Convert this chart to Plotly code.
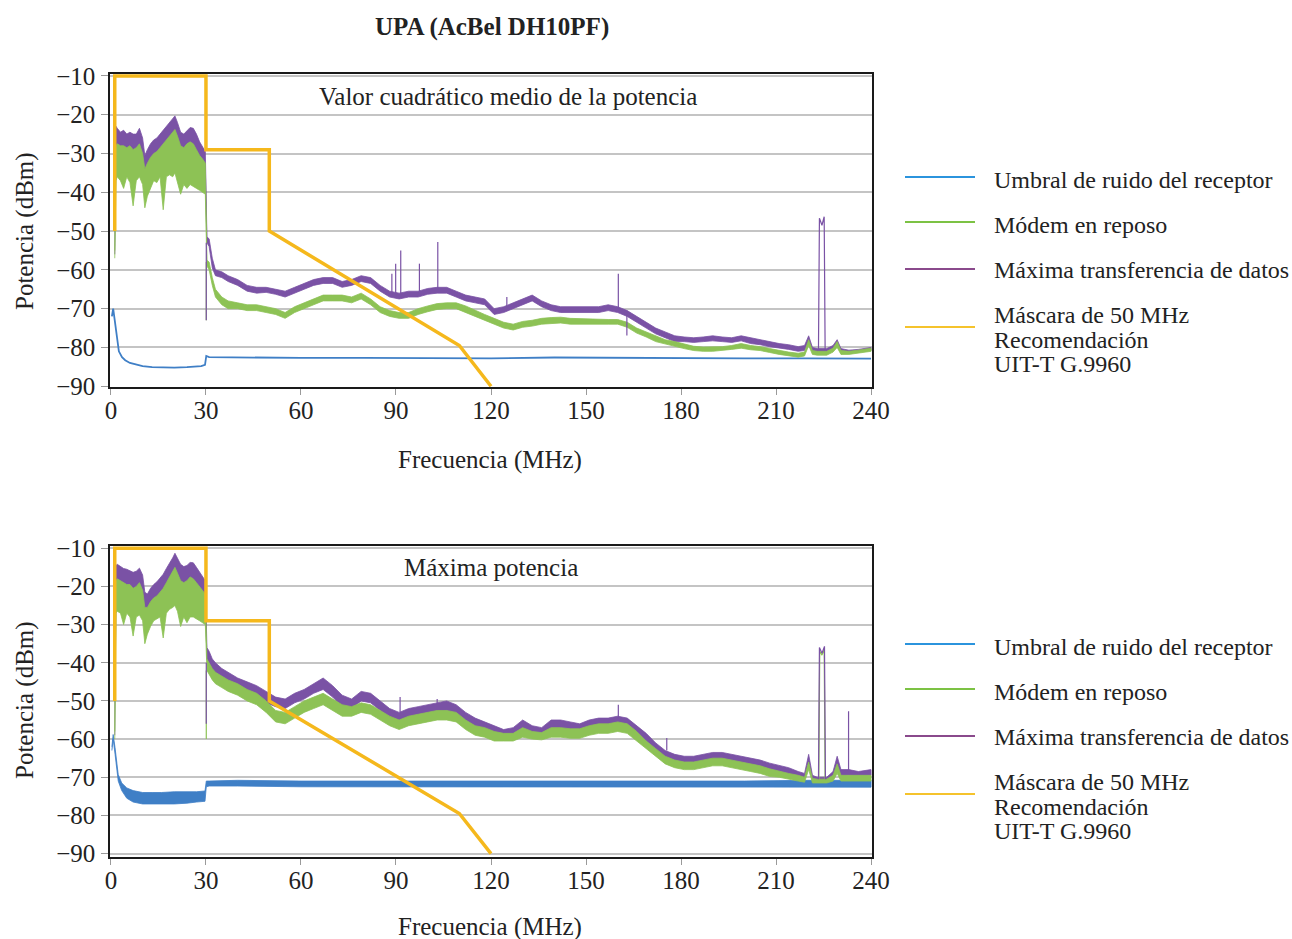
import plotly.graph_objects as go

# ---------------- data ----------------
FREQ = [1.2, 1.6, 2, 3, 4, 5, 6, 7, 8, 9,
        10, 10.7, 11.5, 12.5, 13.5, 14.5, 15.5, 16.5, 17.5, 18.5,
        19.5, 20.2, 21, 22, 23, 24, 25, 26, 27, 28,
        29, 29.8,
        30.3, 31, 32, 33, 35, 37,
        40, 43, 46, 49, 52, 55, 58, 61, 64, 67,
        70, 73, 76, 79, 82, 85, 88, 91, 94, 97,
        100, 103, 106, 109, 112, 115, 118, 121, 124, 127,
        130, 133, 136, 139, 142, 145, 148, 151, 154, 157,
        160, 163, 166, 169, 172, 175, 178, 181, 184, 187,
        190, 193, 196, 199, 202, 205, 208, 211, 214, 217,
        219, 220.3, 221.5, 223, 226, 228, 229.3, 230.5, 233, 236, 240]

# --- top chart: RMS power ---
T_PUR_HI = [-50, -23, -23.5, -24.5, -24, -25, -24.5, -25, -25, -23.5,
            -26, -30.5, -29, -27.5, -26.5, -26, -25, -24, -23, -22,
            -21, -20.3, -22, -24.5, -25, -24, -23.3, -23.5, -25, -27,
            -28.5, -29.5,
            -51.5, -52, -57, -60, -60.5, -61.5,
            -62.5, -64, -64.5, -64.5, -65, -65.5, -64.5, -63.5, -62.5, -62,
            -62, -63, -62.5, -61.5, -62, -64, -65.5, -66, -65.5, -65.5,
            -64.8, -64.5, -64.5, -65.5, -66.5, -67, -67.5, -70, -69.5, -68.5,
            -67.5, -66.5, -68, -69, -69.5, -69.5, -69.5, -69.5, -69.5, -69,
            -69.5, -70.5, -72, -73.5, -75, -76, -77, -77.3, -77.5, -77.3,
            -77, -77.3, -77.5, -77, -77.5, -78, -78.5, -79, -79.3, -79.8,
            -79.5, -77, -80, -80.3, -80.3, -79.5, -78, -80.3, -80.7, -80.5, -80]
T_PUR_LO = [-56, -30, -29, -29.5, -29.5, -30, -29.5, -30.5, -30, -29,
            -31.5, -35.5, -34, -32.5, -31.5, -31, -30, -29, -28, -27,
            -26, -25.5, -27, -29.5, -30, -29, -28.5, -29, -30.5, -32,
            -33, -34,
            -53, -54, -59.5, -61.5, -62, -63,
            -64, -65.5, -66, -65.8, -66.3, -67, -66, -65, -64, -63.5,
            -63.5, -64.5, -64, -63, -63.5, -65.5, -67, -67.5, -67, -67,
            -66.3, -66, -66, -67, -68, -68.5, -69, -71.5, -71, -70,
            -69, -68, -69.5, -70.5, -71, -71, -71, -71, -71, -70.5,
            -71, -72, -73.5, -75, -76.5, -77.5, -78.5, -78.5, -78.7, -78.5,
            -78.3, -78.5, -78.7, -78.3, -79, -79.3, -79.8, -80.2, -80.5, -81,
            -80.8, -78.5, -81, -81.2, -81.2, -80.8, -79.5, -81.2, -81.3, -81.2, -80.8]
T_GRN_HI = [-55, -28, -27.5, -28, -28, -28.5, -28, -29, -28.5, -27.5,
            -30, -34, -32.5, -31, -30, -29.5, -28.5, -27.5, -26.5, -25.5,
            -24.5, -23.8, -25.5, -28, -28.5, -27.5, -27, -27.5, -29, -30.5,
            -31.5, -32.5,
            -57.5, -58, -62, -65, -67, -68,
            -68.5, -69, -69, -69.5, -70, -71, -69.5, -68.5, -67.5, -66.5,
            -66.5, -66.5, -67, -66, -67.5, -69.5, -70.5, -71, -71, -70,
            -69.3, -68.7, -68.5, -68.5, -69.3, -70.5, -71.5, -72.5, -73.5, -74,
            -73.3, -73, -72.5, -72.3, -72.2, -72.5, -72.6, -72.6, -72.7, -72.8,
            -72.8, -73.5, -75, -76, -77.2, -78, -78.5, -79.2, -79.7, -79.9,
            -79.9, -79.8, -79.5, -79, -79.5, -79.8, -80.3, -80.8, -81.2, -81.5,
            -81.2, -78, -80.8, -81, -81, -80.2, -78.5, -80.8, -81, -80.7, -80.2]
T_GRN_LO = [-57, -37, -36, -37, -39, -36, -37.5, -43.5, -37, -36,
            -38, -44, -41, -39, -37, -37.5, -36, -44.5, -36, -35.5,
            -36, -35, -37, -40.5, -38, -39, -38, -38.5, -39, -39.5,
            -40, -40.5,
            -59, -60, -64, -67, -69, -70,
            -70, -70.5, -70.5, -71, -71.5, -72.5, -71, -70, -69, -68,
            -68, -68, -68.5, -67.5, -69, -71, -72, -72.5, -72.5, -71.5,
            -70.8, -70.2, -70, -70, -70.8, -72, -73, -74, -75, -75.5,
            -74.8, -74.5, -74, -73.8, -73.7, -74, -74, -74, -74, -74,
            -74, -74.8, -76.3, -77.3, -78.5, -79.2, -79.7, -80.3, -80.8, -81,
            -81, -80.8, -80.5, -80.2, -80.6, -80.8, -81.3, -81.8, -82.2, -82.5,
            -82.2, -79.5, -81.8, -82, -82, -81.2, -80, -81.8, -81.8, -81.5, -81]
T_BLUE_F = [0.3, 0.7, 1.2, 1.8, 2.5, 3.5, 4.5, 6, 8, 10, 13, 16, 20, 24, 27, 28.5,
            29.7, 30.1, 31, 40, 60, 80, 100, 120, 140, 160, 180, 200, 220, 240]
T_BLUE_Y = [-72, -70, -73, -77, -81, -82.5, -83.3, -84, -84.5, -84.8, -85.1, -85.2, -85.2,
            -85.1, -85, -84.8, -84.5, -82.2, -82.5, -82.6, -82.7, -82.7, -82.8, -82.8,
            -82.6, -82.7, -82.7, -82.8, -82.8, -82.9]
T_SPK_F = [30.1, 88.7, 89.9, 91.5, 97.4, 103.2, 125.0, 160.2, 162.9]
T_SPK_BASE = [-53, -66.5, -66.5, -67, -66, -65, -70, -70, -70.5]
T_SPK_TIP = [-73, -61, -58.4, -55, -58.4, -52.8, -67, -61, -76.9]
T_GSPK_F = [30.1]
T_GSPK_BASE = [-58]
T_GSPK_TIP = [-73]
T_PULSE_F = [223.4, 223.7, 224.5, 225.2, 225.5]
T_PULSE_Y = [-80.5, -46.7, -48.5, -46.3, -80.5]

# --- bottom chart: peak power ---
B_PUR_HI = [-50, -14.5, -14.2, -14.8, -15.3, -15.5, -15.8, -16.3, -16, -15.2,
            -17, -21.5, -22, -20.5, -19.5, -18.8, -17.8, -16.8, -15.3, -14,
            -12.5, -11.3, -12.5, -14.2, -14.8, -14.5, -13.7, -13.8, -15, -16.3,
            -17.3, -18.5,
            -36, -37, -39, -40, -41.5, -42.5,
            -44, -45, -46, -47.5, -49, -49.5, -48, -47, -45.5, -44,
            -46, -48.5, -49.5, -47.5, -48, -50, -52, -53, -52, -51.5,
            -51, -50.5, -50, -51, -53, -54.5, -55.5, -56.5, -57.5, -57,
            -55, -56.5, -57, -55, -55, -55.5, -56, -55, -54.5, -54.5,
            -54, -54.5, -56.5, -58.5, -61, -63, -64, -64.5, -64.5, -64,
            -63.5, -63.5, -64, -64.5, -65, -65.5, -66.3, -67, -67.5, -68.5,
            -69, -64, -69.5, -70, -70, -68.5, -64.5, -68, -68, -68.5, -68]
B_PUR_LO = [-59, -20, -19.5, -20, -20.5, -21, -21, -22, -21.5, -20.5,
            -22.5, -27, -27, -25.5, -24.5, -24, -23, -22, -20.5, -19,
            -17.5, -16.5, -18, -20, -20.5, -20, -19, -19.5, -20.5, -21.5,
            -22.5, -23.5,
            -39, -40.5, -42, -43, -44.5, -45.5,
            -47, -48, -49, -50.5, -51.5, -52, -50.5, -49.5, -48, -47,
            -49, -51.5, -52, -50, -50.5, -52.5, -54.5, -55.5, -54.5, -54,
            -53.5, -53, -52.5, -53.5, -55.5, -57, -58, -59, -59.5, -59.5,
            -57.5, -59, -59, -57.5, -57.5, -58, -58.5, -57.5, -57, -57,
            -56.5, -57, -58.5, -60.5, -63, -65, -66, -66.5, -66.5, -66,
            -65.5, -65.5, -66, -66.5, -67, -67.5, -68.3, -69, -69.5, -70,
            -70.5, -66, -71, -71, -71, -70.5, -67, -70, -69.5, -70, -69.5]
B_GRN_HI = [-58, -18.5, -18, -18.5, -19, -19.5, -19.5, -20.5, -20, -19,
            -21, -25.5, -25.5, -24, -23, -22.5, -21.5, -20.5, -19, -17.5,
            -16, -15, -16.5, -18.5, -19, -18.5, -17.5, -18, -19, -20,
            -21, -22,
            -39, -40, -41.5, -42.5, -43.5, -44.5,
            -45.5, -47, -48, -50, -52.5, -53, -51.5, -50, -49, -48,
            -49.5, -51, -51.5, -50.5, -51, -52.5, -54, -55, -54, -53.5,
            -53, -52.5, -52.5, -53, -55, -56.5, -57, -58, -58.5, -58.5,
            -57, -58, -58.3, -57, -57, -57.3, -57.3, -56.5, -56, -56,
            -55.5, -56, -58, -60.5, -62.5, -64.5, -65.5, -66, -66, -65.5,
            -65, -65, -65.5, -66, -66.5, -67, -67.8, -68.5, -69, -69.5,
            -70, -66, -70.3, -70.5, -70.5, -69.5, -66.5, -69.5, -69.5, -69.5, -69.5]
B_GRN_LO = [-60, -27, -26.5, -27, -30, -27, -28, -33, -28, -27.5,
            -29, -35, -32.5, -30.5, -29, -28.5, -28, -33.5, -27, -26,
            -25.5, -25, -26.5, -30.5, -28, -29.5, -28, -28, -28.5, -29,
            -29.5, -30,
            -42, -43, -44.5, -45.5, -46.5, -47.5,
            -48.5, -50, -51, -53, -55.5, -56, -54.5, -53, -52, -51,
            -52.5, -54, -54, -53, -53.5, -55, -56.5, -57.5, -56.5, -56,
            -55.5, -55, -55, -55.5, -57.5, -59, -59.5, -60.5, -60.5, -60.5,
            -59.5, -60, -60.2, -59.5, -59.5, -59.8, -59.8, -59, -58.5, -58.5,
            -58, -58.5, -60.5, -62.5, -64.5, -66.5, -67.5, -68, -68, -67.5,
            -67, -67, -67.5, -68, -68.5, -69, -69.8, -70, -70.5, -71,
            -71.3, -68, -71.5, -71.5, -71.5, -71, -69, -71, -71, -71, -71]
B_BLUE_F = [0.3, 0.7, 1.3, 2.3, 3.4, 5, 7, 10, 13, 16, 20, 24, 27, 29.7, 30.1, 31,
            40, 60, 80, 100, 120, 140, 160, 180, 200, 220, 240]
B_BLUE_HI = [-62, -58.8, -62.3, -69.3, -71.5, -72.8, -73.5, -74, -74, -74, -73.8, -73.8,
             -73.8, -73.6, -71, -71, -70.8, -71, -71, -71, -71, -71, -71, -71, -71, -70.8, -70.8]
B_BLUE_LO = [-63, -60, -64, -71, -73.5, -75.5, -76.5, -77, -77, -77, -77, -76.8,
             -76.5, -76.3, -72.5, -72.3, -72.3, -72.5, -72.5, -72.5, -72.5, -72.5, -72.5,
             -72.5, -72.5, -72.6, -72.6]
B_SPK_F = [30.1, 91.3, 103.0, 160.2, 175.5, 232.9]
B_SPK_BASE = [-40, -53, -51, -54.5, -63, -68.5]
B_SPK_TIP = [-56, -49, -49.5, -51, -59.7, -52.7]
B_GSPK_F = [30.1]
B_GSPK_BASE = [-42]
B_GSPK_TIP = [-60]
B_PULSE_F = [223.4, 223.7, 224.5, 225.3, 225.6]
B_PULSE_Y = [-70.5, -36, -37.5, -35.7, -70.5]
B_GPULSE_F = [223.5, 223.8, 224.5, 225.2, 225.5]
B_GPULSE_Y = [-71, -37, -38, -36.5, -71]

# --- G.9960 50 MHz mask (same on both charts) ---
MASK_F = [1.2, 1.2, 30, 30, 50, 50, 110, 120]
MASK_DBM = [-50, -10, -10, -29, -29, -50, -79.5, -90]

X_TICKS = [0, 30, 60, 90, 120, 150, 180, 210, 240]
Y_TICKS = [-10, -20, -30, -40, -50, -60, -70, -80, -90]

TITLE = "UPA (AcBel DH10PF)"
SUB_TOP = "Valor cuadrático medio de la potencia"
SUB_BOT = "Máxima potencia"
X_TITLE = "Frecuencia (MHz)"
Y_TITLE = "Potencia (dBm)"
LEGEND_LABELS = ["Umbral de ruido del receptor", "Módem en reposo",
                 "Máxima transferencia de datos",
                 ["Máscara de 50 MHz", "Recomendación", "UIT-T G.9960"]]

# ---------------- styling ----------------
W, H = 1292, 939
PL, PR = 110, 872
FONT = "Liberation Serif"
BLUE = "#3f7fc6"
GREEN = "#8dc255"
PURPLE = "#7a52a5"
YELLOW = "#f5b81c"
LEG_COLORS = ["#2b94dd", "#7cc244", "#8a4a8c", "#f5c32c"]
GRID = "#c4c4c4"


def PX(px):
    return (px - PL) / (PR - PL)


def PY(py):
    return 1 - py / H


fig = go.Figure()


def band(f, hi, lo, color, ax):
    fig.add_trace(go.Scatter(x=list(f) + list(f)[::-1], y=list(hi) + list(lo)[::-1],
                             mode="lines", fill="toself", fillcolor=color,
                             line=dict(color=color, width=0.8),
                             xaxis=ax[0], yaxis=ax[1], hoverinfo="skip", showlegend=False))


def line(f, y, color, width, ax):
    fig.add_trace(go.Scatter(x=f, y=y, mode="lines", line=dict(color=color, width=width),
                             xaxis=ax[0], yaxis=ax[1], hoverinfo="skip", showlegend=False))


def spikes(f, base, tip, color, ax):
    xs, ys = [], []
    for a, b, c in zip(f, base, tip):
        xs += [a, a, None]
        ys += [b, c, None]
    line(xs, ys, color, 1.2, ax)


TOP = ("x", "y")
BOT = ("x2", "y2")

# top chart
line(T_BLUE_F, T_BLUE_Y, BLUE, 1.8, TOP)
band(FREQ, T_PUR_HI, T_PUR_LO, PURPLE, TOP)
band(FREQ, T_GRN_HI, T_GRN_LO, GREEN, TOP)
spikes(T_GSPK_F, T_GSPK_BASE, T_GSPK_TIP, GREEN, TOP)
spikes(T_SPK_F, T_SPK_BASE, T_SPK_TIP, PURPLE, TOP)
line(T_PULSE_F, T_PULSE_Y, PURPLE, 1.2, TOP)
line(MASK_F, MASK_DBM, YELLOW, 3.5, TOP)

# bottom chart
band(B_BLUE_F, B_BLUE_HI, B_BLUE_LO, BLUE, BOT)
band(FREQ, B_PUR_HI, B_PUR_LO, PURPLE, BOT)
band(FREQ, B_GRN_HI, B_GRN_LO, GREEN, BOT)
spikes(B_GSPK_F, B_GSPK_BASE, B_GSPK_TIP, GREEN, BOT)
line(B_GPULSE_F, B_GPULSE_Y, GREEN, 1.2, BOT)
spikes(B_SPK_F, B_SPK_BASE, B_SPK_TIP, PURPLE, BOT)
line(B_PULSE_F, B_PULSE_Y, PURPLE, 1.2, BOT)
line(MASK_F, MASK_DBM, YELLOW, 3.5, BOT)

xcommon = dict(range=[-0.3, 240.3], tickvals=X_TICKS, ticks="outside", ticklen=6,
               tickcolor="#9a9a9a", tickwidth=1.2, showgrid=False, zeroline=False,
               showline=True, mirror=True, linecolor="#1a1a1a", linewidth=1.5,
               automargin=False,
               tickfont=dict(family=FONT, size=25, color="#222"), ticklabelstandoff=-6)
ycommon = dict(tickvals=Y_TICKS, ticks="outside", ticklen=7, tickcolor="#9a9a9a",
               tickwidth=1.2, showgrid=True, gridcolor=GRID, gridwidth=1.6, zeroline=False,
               showline=True, mirror=True, linecolor="#1a1a1a", linewidth=1.5,
               automargin=False,
               tickfont=dict(family=FONT, size=25, color="#222"), ticklabelstandoff=1)

fig.update_layout(
    width=W, height=H, autosize=False,
    margin=dict(l=PL, r=W - PR, t=0, b=0, pad=0),
    paper_bgcolor="white", plot_bgcolor="white",
    showlegend=False,
    xaxis=dict(domain=[0, 1], anchor="y", **xcommon),
    yaxis=dict(domain=[PY(387), PY(74)], anchor="x", range=[-90.2, -9.5], **ycommon),
    xaxis2=dict(domain=[0, 1], anchor="y2", **xcommon),
    yaxis2=dict(domain=[PY(857), PY(546)], anchor="x2", range=[-90.9, -9.4], **ycommon),
)

ann = []


def text(px, py, s, size=25, xanchor="center", bold=False, angle=0):
    ann.append(dict(x=PX(px), y=PY(py), xref="paper", yref="paper", text=s,
                    showarrow=False, xanchor=xanchor, yanchor="middle", textangle=angle,
                    font=dict(family=FONT, size=size, color="#222")))


text(492, 27, "<b>" + TITLE + "</b>", size=25)
text(508, 96, SUB_TOP)
text(491, 567, SUB_BOT)
text(490, 460, X_TITLE)
text(490, 927, X_TITLE)
text(25, 231, Y_TITLE, angle=-90)
text(25, 700, Y_TITLE, angle=-90)

shapes = []
for off in (0, 467):
    line_y = [177, 222, 269, 327]
    text_y = [180, 225, 270]
    for i in range(4):
        shapes.append(dict(type="line", xref="paper", yref="paper",
                           x0=PX(905), x1=PX(975), y0=PY(line_y[i] + off), y1=PY(line_y[i] + off),
                           line=dict(color=LEG_COLORS[i], width=1.8)))
    for i in range(3):
        text(992, text_y[i] + off, LEGEND_LABELS[i], size=24, xanchor="left")
    for j, s in enumerate(LEGEND_LABELS[3]):
        text(992, 315 + 24.5 * j + off, s, size=24, xanchor="left")

fig.update_layout(annotations=ann, shapes=shapes)

fig.write_html("out.html", config={"displayModeBar": False},
               post_script="document.body.style.margin='0';document.body.style.overflow='hidden';")
